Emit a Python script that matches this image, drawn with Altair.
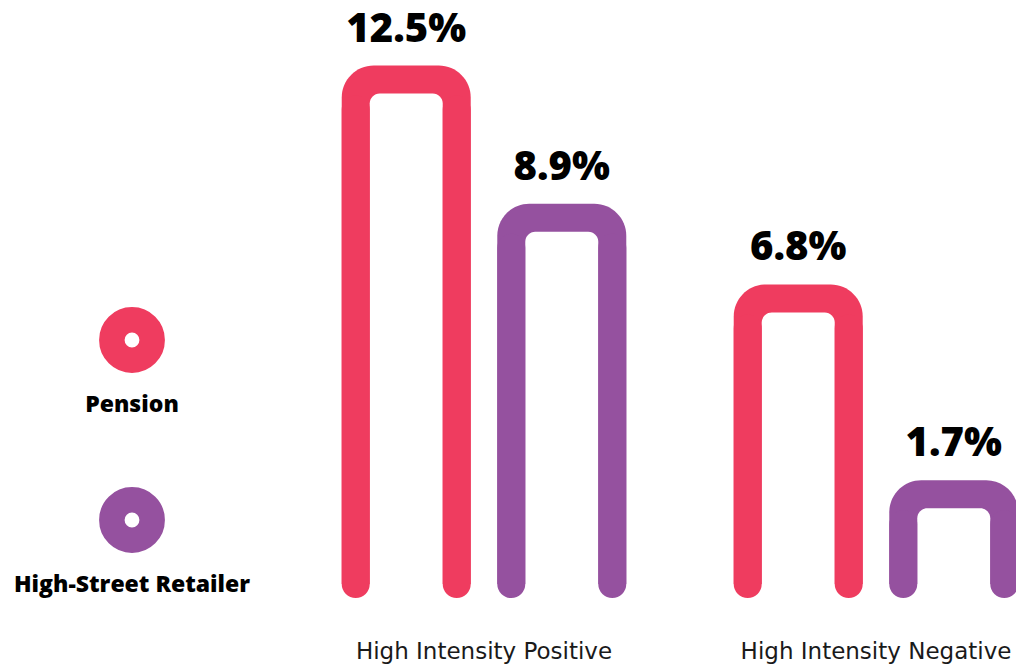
import math
import altair as alt
import pandas as pd

# ---- data ----
groups = ["High Intensity Positive", "High Intensity Negative"]
series = ["Pension", "High-Street Retailer"]
pension_values = [12.5, 6.8]
retailer_values = [8.9, 1.7]
colors = ["#EF3C5F", "#95519F"]

BASE = -1.0   # value scale floor where the arch legs end
TOP = 14.0

rows = []
for i, g in enumerate(groups):
    rows.append({"group": g, "series": series[0], "value": pension_values[i]})
    rows.append({"group": g, "series": series[1], "value": retailer_values[i]})
df = pd.DataFrame(rows)
df["label"] = df["value"].map(lambda v: f"{v:.1f}%")
df["base"] = BASE

legend_df = pd.DataFrame({"series": series})

# ---- styling ----
W, H = 672, 576
STROKE = 28
BAR_W = 129
NUM_FONT = "Open Sans"
AXIS_FONT = "DejaVu Sans"
LEG_FONT = "Open Sans"

color = alt.Color("series:N", scale=alt.Scale(domain=series, range=colors), legend=None)
x_enc = alt.X(
    "group:N", sort=groups,
    scale=alt.Scale(paddingInner=0.2857, paddingOuter=0),
    axis=alt.Axis(title=None, domain=False, ticks=False, grid=False, labelAngle=0,
                  labelFont=AXIS_FONT, labelFontSize=23, labelColor="#1a1a1a",
                  labelPadding=56, labelFontWeight="normal", labelLimit=0),
)
xoff_band = alt.XOffset("series:N", sort=series,
                        scale=alt.Scale(type="band", paddingInner=0.2, paddingOuter=0))
y_enc = alt.Y("value:Q", scale=alt.Scale(domain=[BASE, TOP], zero=False, nice=False), axis=None)

base = alt.Chart(df)

outer = base.mark_bar(width=BAR_W, cornerRadiusTopLeft=32, cornerRadiusTopRight=32).encode(
    x=x_enc, xOffset=xoff_band, y=y_enc, y2="base:Q", color=color
)
inner = base.mark_bar(width=BAR_W - 2 * STROKE, color="white",
                      cornerRadiusTopLeft=10, cornerRadiusTopRight=10,
                      yOffset=STROKE, y2Offset=40).encode(
    x=x_enc, xOffset=xoff_band, y=y_enc, y2="base:Q"
)
half = (BAR_W - STROKE) / 2
c1, c2 = 62.22, 217.78
left_legs = base.mark_rule(strokeWidth=STROKE, strokeCap="round", yOffset=44).encode(
    x=x_enc,
    xOffset=alt.XOffset("series:N", sort=series,
                        scale=alt.Scale(type="point", range=[c1 - half, c2 - half], padding=0)),
    y=y_enc, y2="base:Q", color=color,
)
right_legs = base.mark_rule(strokeWidth=STROKE, strokeCap="round", yOffset=44).encode(
    x=x_enc,
    xOffset=alt.XOffset("series:N", sort=series,
                        scale=alt.Scale(type="point", range=[c1 + half, c2 + half], padding=0)),
    y=y_enc, y2="base:Q", color=color,
)
labels = base.mark_text(font=NUM_FONT, fontWeight=800, fontSize=40, dy=-36,
                        baseline="middle", align="center", color="#000000").encode(
    x=x_enc,
    xOffset=alt.XOffset("series:N", sort=series,
                        scale=alt.Scale(type="point", range=[c1, c2], padding=0)),
    y=y_enc, text="label:N",
)

bars = alt.layer(outer, inner, left_legs, right_legs, labels).resolve_scale(xOffset="independent")

# ---- legend drawn as rings with labels below ----
ring_r = 22.75
leg_y = alt.Y("series:N", sort=series,
              scale=alt.Scale(type="point", range=[332, 512], padding=0), axis=None)
rings = alt.Chart(legend_df).mark_point(shape="circle", filled=False, strokeWidth=25.5,
                                        size=math.pi * ring_r ** 2, opacity=1).encode(
    x=alt.value(132 - 344), y=leg_y, color=color
)
ring_labels = alt.Chart(legend_df).mark_text(font=LEG_FONT, fontWeight=800, fontSize=23,
                                             dy=65, baseline="middle", align="center",
                                             color="#000000").encode(
    x=alt.value(132 - 344), y=leg_y, text="series:N"
)
legend = alt.layer(rings, ring_labels)

chart = alt.layer(bars, legend).resolve_scale(y="independent").properties(
    width=W, height=H,
    autosize=alt.AutoSizeParams(type="none"),
    padding={"left": 344, "top": 8, "right": 0, "bottom": 82},
    background="white",
).configure_view(stroke=None)

chart.save("out.html", embed_options={"renderer": "svg", "actions": False})
